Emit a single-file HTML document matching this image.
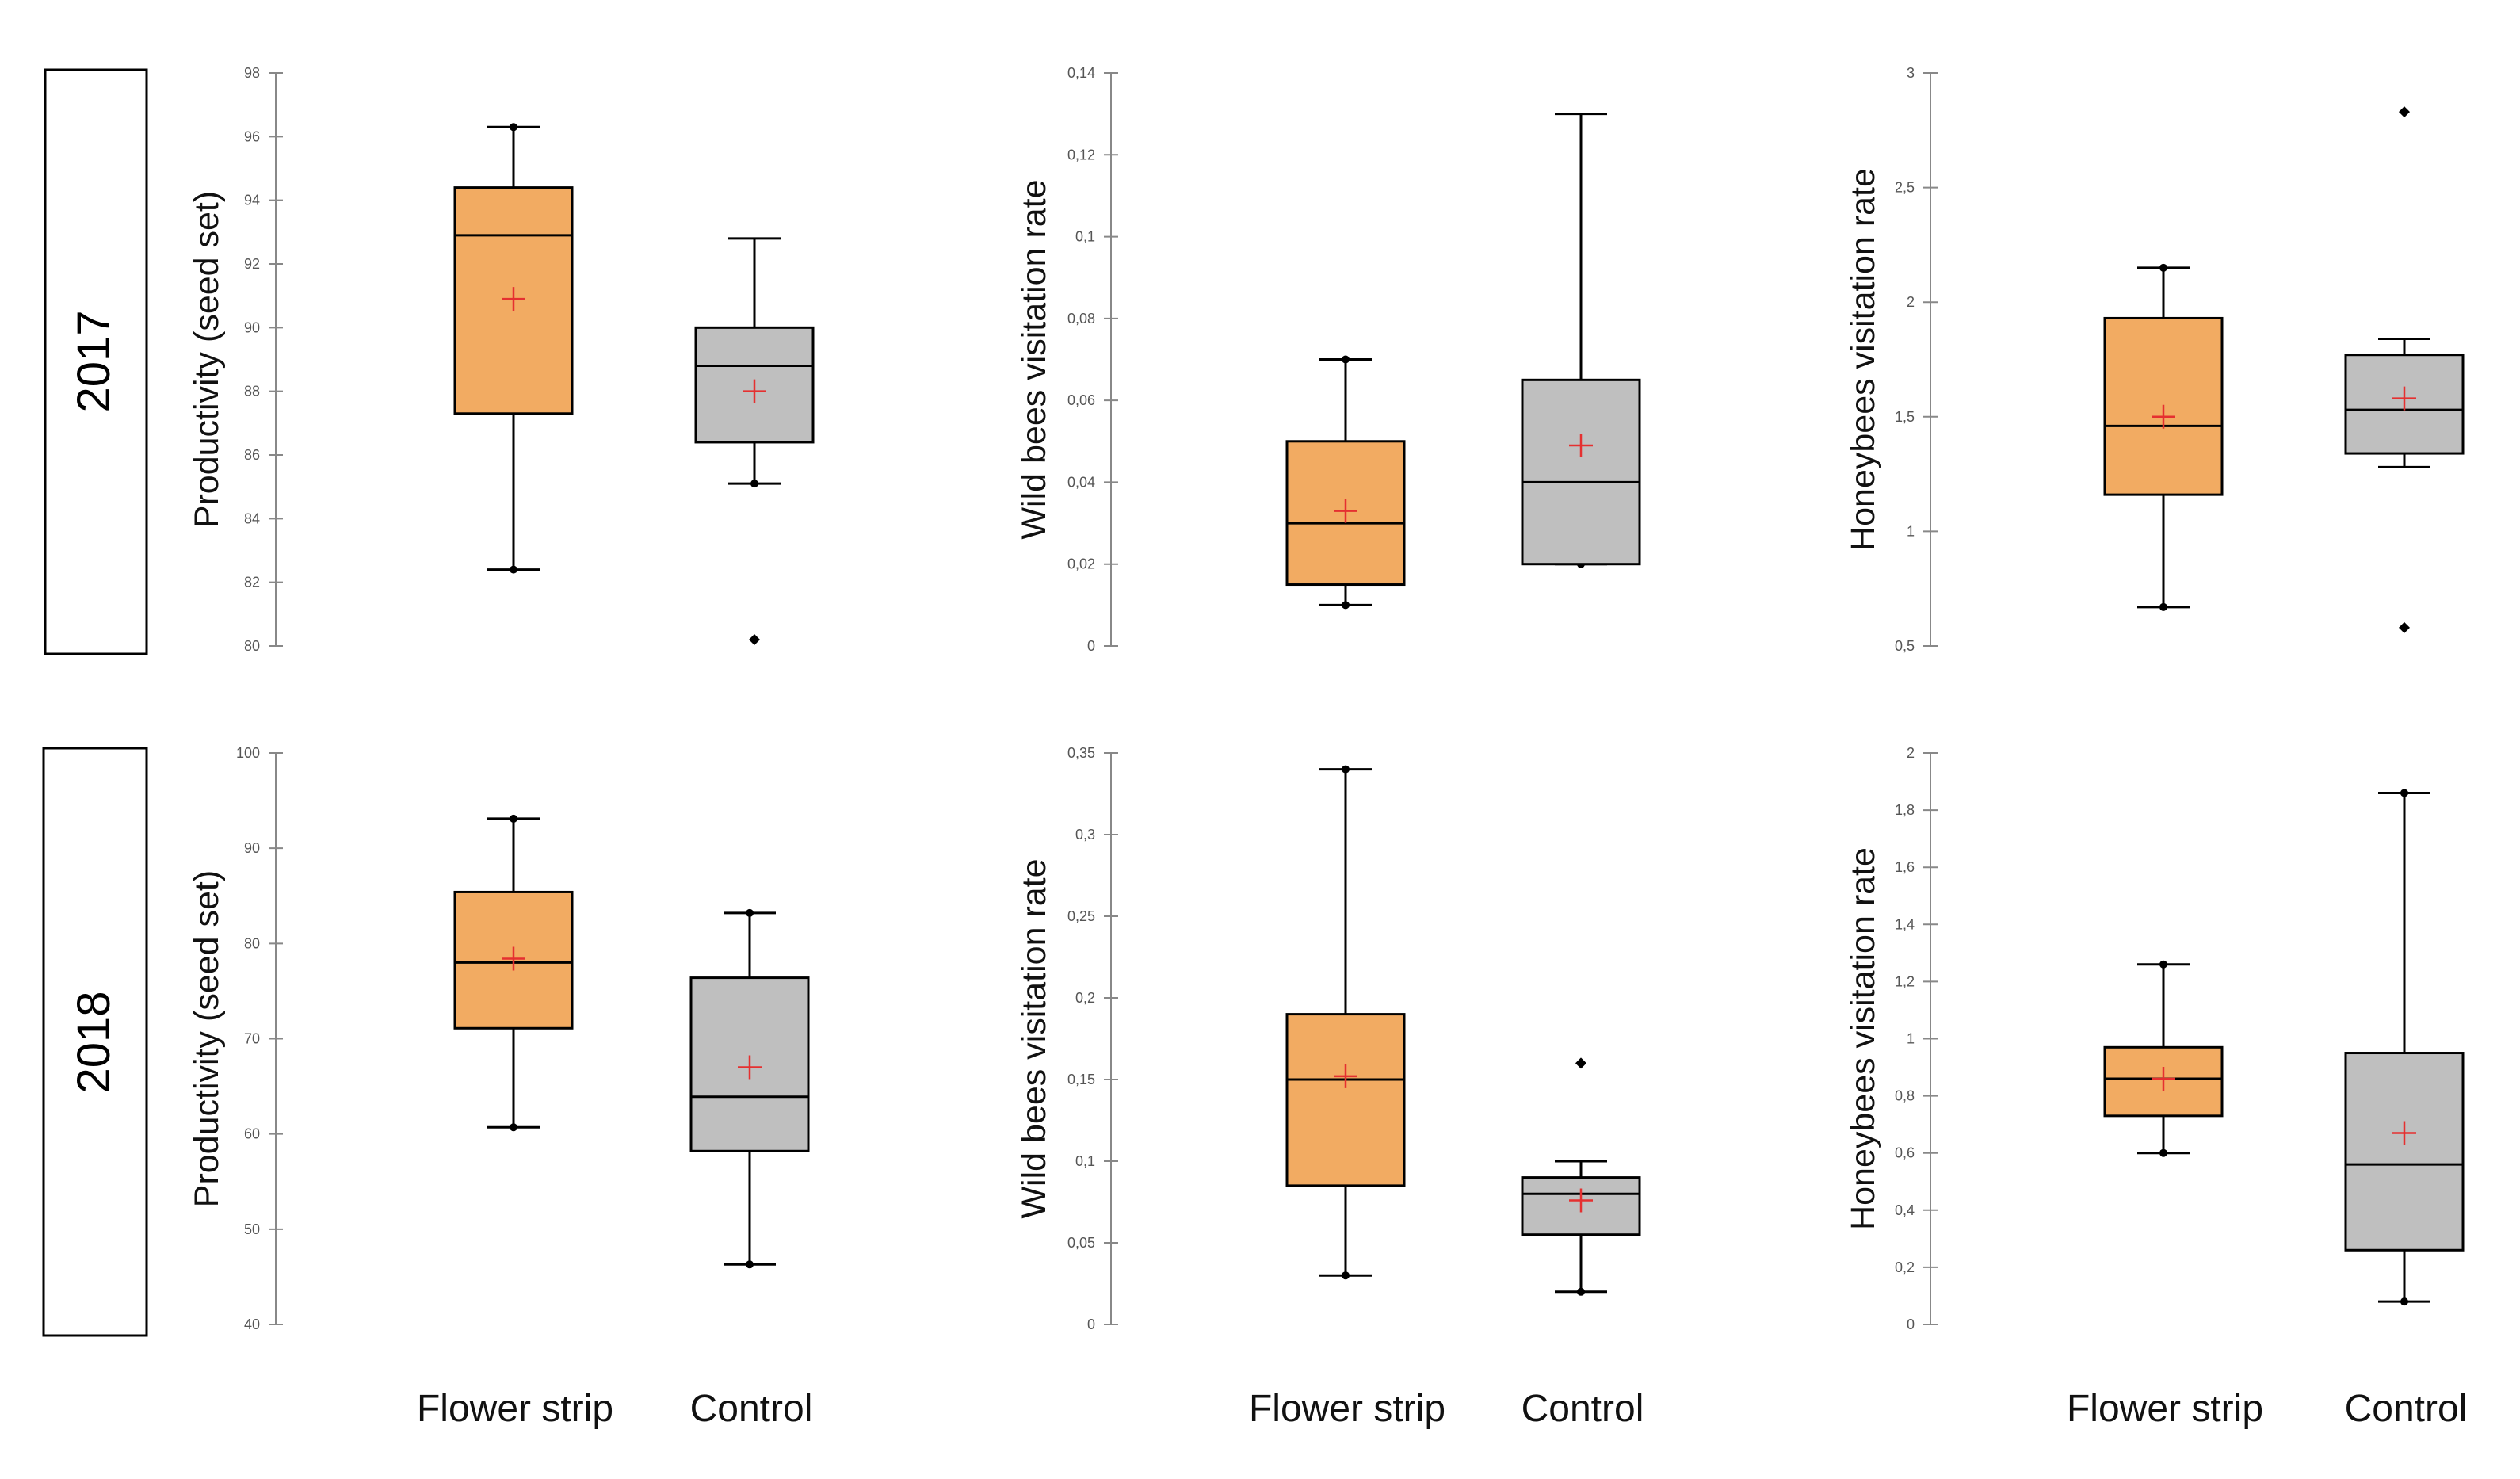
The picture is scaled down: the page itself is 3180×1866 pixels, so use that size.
<!DOCTYPE html>
<html><head><meta charset="utf-8">
<style>
html,body{margin:0;padding:0;background:#fff;}
svg{display:block;font-family:"Liberation Sans",sans-serif;}
</style></head>
<body>
<svg id="chart" width="3180" height="1866" viewBox="0 0 3180 1866" xmlns="http://www.w3.org/2000/svg">
<rect x="57" y="88" width="128" height="737" fill="none" stroke="#000" stroke-width="3"/>
<text x="0" y="0" transform="translate(138,456) rotate(-90)" text-anchor="middle" font-size="58">2017</text>
<rect x="55" y="944" width="130" height="741" fill="none" stroke="#000" stroke-width="3"/>
<text x="0" y="0" transform="translate(138,1315) rotate(-90)" text-anchor="middle" font-size="58">2018</text>
</svg>
<script>
// Panel data arrays: [whiskerLow, q1, median, q3, whiskerHigh, mean]
const flower2017Prod = [82.4, 87.3, 92.9, 94.4, 96.3, 90.9];
const control2017Prod = [85.1, 86.4, 88.8, 90.0, 92.8, 88.0];
const flower2017Wild = [0.01, 0.015, 0.03, 0.05, 0.07, 0.033];
const control2017Wild = [0.02, 0.02, 0.04, 0.065, 0.13, 0.049];
const flower2017Honey = [0.67, 1.16, 1.46, 1.93, 2.15, 1.50];
const control2017Honey = [1.28, 1.34, 1.53, 1.77, 1.84, 1.58];
const flower2018Prod = [60.7, 71.1, 78.0, 85.4, 93.1, 78.4];
const control2018Prod = [46.3, 58.2, 63.9, 76.4, 83.2, 67.0];
const flower2018Wild = [0.03, 0.085, 0.15, 0.19, 0.34, 0.152];
const control2018Wild = [0.02, 0.055, 0.08, 0.09, 0.10, 0.076];
const flower2018Honey = [0.60, 0.73, 0.86, 0.97, 1.26, 0.86];
const control2018Honey = [0.08, 0.26, 0.56, 0.95, 1.86, 0.67];
// outliers
const outControl2017Prod = [80.2];
const outControl2017Honey = [2.83, 0.58];
const outControl2018Wild = [0.16];
// ticks
const ticksProd2017 = [80,82,84,86,88,90,92,94,96,98];
const ticksWild2017 = [0,0.02,0.04,0.06,0.08,0.1,0.12,0.14];
const ticksHoney2017 = [0.5,1,1.5,2,2.5,3];
const ticksProd2018 = [40,50,60,70,80,90,100];
const ticksWild2018 = [0,0.05,0.1,0.15,0.2,0.25,0.3,0.35];
const ticksHoney2018 = [0,0.2,0.4,0.6,0.8,1,1.2,1.4,1.6,1.8,2];
const categories = ["Flower strip", "Control"];

const svg = document.getElementById('chart');
const NS = 'http://www.w3.org/2000/svg';
function mk(tag, attrs){const e=document.createElementNS(NS,tag);for(const k in attrs)e.setAttribute(k,attrs[k]);svg.appendChild(e);return e;}
function fmt(v){return String(+v.toFixed(4)).replace('.',',');}

const panels = [
 {id:'prod-2017',ax:348,top:92,bot:815,ticks:ticksProd2017,title:'Productivity  (seed set)',tx:260,boxes:[flower2017Prod,control2017Prod],cx:[648,952],outs:[[],outControl2017Prod],dots:[[1,1],[1,0]]},
 {id:'wild-2017',ax:1402,top:92,bot:815,ticks:ticksWild2017,title:'Wild bees visitation rate',tx:1304,boxes:[flower2017Wild,control2017Wild],cx:[1698,1995],outs:[[],[]],dots:[[1,1],[1,0]]},
 {id:'honey-2017',ax:2436,top:92,bot:815,ticks:ticksHoney2017,title:'Honeybees  visitation rate',tx:2350,boxes:[flower2017Honey,control2017Honey],cx:[2730,3034],outs:[[],outControl2017Honey],dots:[[1,1],[0,0]]},
 {id:'prod-2018',ax:348,top:950,bot:1671,ticks:ticksProd2018,title:'Productivity  (seed set)',tx:260,boxes:[flower2018Prod,control2018Prod],cx:[648,946],outs:[[],[]],dots:[[1,1],[1,1]]},
 {id:'wild-2018',ax:1402,top:950,bot:1671,ticks:ticksWild2018,title:'Wild bees visitation rate',tx:1304,boxes:[flower2018Wild,control2018Wild],cx:[1698,1995],outs:[[],outControl2018Wild],dots:[[1,1],[1,0]]},
 {id:'honey-2018',ax:2436,top:950,bot:1671,ticks:ticksHoney2018,title:'Honeybees  visitation rate',tx:2350,boxes:[flower2018Honey,control2018Honey],cx:[2730,3034],outs:[[],[]],dots:[[1,1],[1,1]]}
];
const fills=['#f2ab62','#bfbfbf'];
const names=['flower-strip','control'];

panels.forEach(p=>{
  const t0=p.ticks[0], t1=p.ticks[p.ticks.length-1];
  const y=v=>p.bot-(v-t0)/(t1-t0)*(p.bot-p.top);
  let e=mk('line',{x1:p.ax,y1:p.top,x2:p.ax,y2:p.bot,stroke:'#888','stroke-width':2});
  
  
  p.ticks.forEach(tv=>{
    const ty=y(tv);
    let l=mk('line',{x1:p.ax-9,y1:ty,x2:p.ax+9,y2:ty,stroke:'#888','stroke-width':2});
    
    
    let tx=mk('text',{x:p.ax-20,y:ty+6,'text-anchor':'end','font-size':18,fill:'#555'});
    tx.textContent=fmt(tv);
    
    
  });
  const ymid=(p.top+p.bot)/2;
  let tt=mk('text',{transform:`translate(${p.tx+15},${ymid}) rotate(-90)`,'text-anchor':'middle','font-size':43,fill:'#111'});
  tt.textContent=p.title;
  
  
  p.boxes.forEach((b,i)=>{
    const cx=p.cx[i], hw=74, cap=33;
    let w=mk('line',{x1:cx,y1:y(b[0]),x2:cx,y2:y(b[4]),stroke:'#000','stroke-width':3});
    
    
    [b[0],b[4]].forEach((v,k)=>{
      let c=mk('line',{x1:cx-cap,y1:y(v),x2:cx+cap,y2:y(v),stroke:'#000','stroke-width':3});
      
      
      if(p.dots[i][k]){
        let d=mk('circle',{cx:cx,cy:y(v),r:5,fill:'#000'});
        
        
      }
    });
    let r=mk('rect',{x:cx-hw,y:y(b[3]),width:hw*2,height:y(b[1])-y(b[3]),fill:fills[i],stroke:'#000','stroke-width':3});
    
    
    let m=mk('line',{x1:cx-hw,y1:y(b[2]),x2:cx+hw,y2:y(b[2]),stroke:'#000','stroke-width':3});
    
    
    const my=y(b[5]);
    let pl=mk('path',{d:`M${cx-15},${my}H${cx+15}M${cx},${my-15}V${my+15}`,stroke:'#e53030','stroke-width':2.5,fill:'none'});
    
    
    p.outs[i].forEach(v=>{
      let o=mk('path',{d:`M${cx},${y(v)-7}L${cx+7},${y(v)}L${cx},${y(v)+7}L${cx-7},${y(v)}Z`,fill:'#000'});
      
      
    });
  });
  if(p.top>500){
    p.cx.forEach((cx,i)=>{
      let ct=mk('text',{x:cx+2,y:1793,'text-anchor':'middle','font-size':48,fill:'#111'});
      ct.textContent=categories[i];
      
      
    });
  }
});
</script>
</body></html>
